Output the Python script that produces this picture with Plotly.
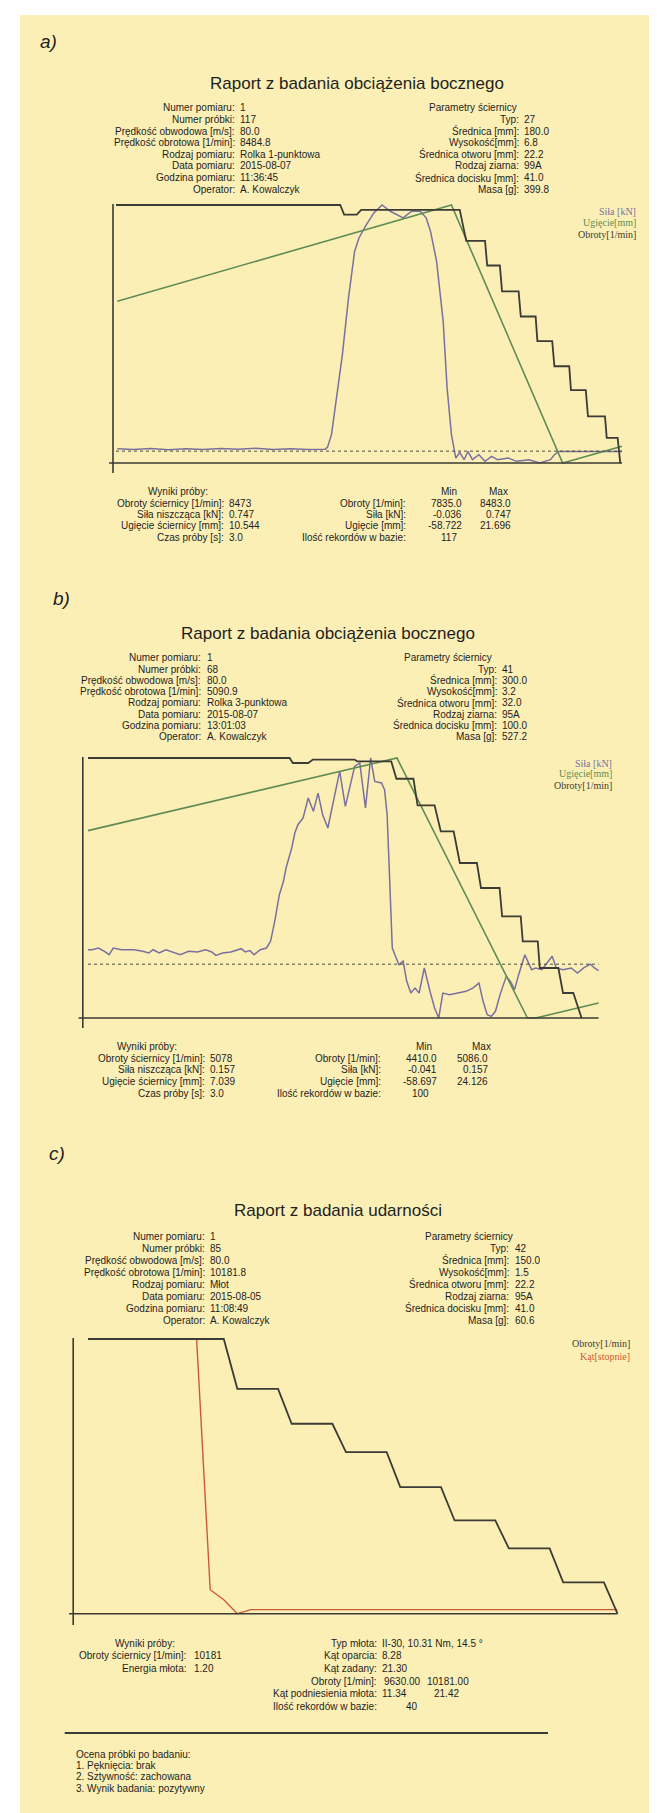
import plotly.graph_objects as go

W, H = 657, 1813

# ================= DATA =================
# ---- Panel a) Raport z badania obciążenia bocznego (Rolka 1-punktowa), 117 rekordów ----
a_sila_x = [0.3, 4, 8, 12, 16, 20, 24, 28, 32, 36, 40, 44, 48.0,
            48.5, 49.4, 50.4, 51.9, 53.3, 54.7, 55.7, 57.2, 59.1, 61.0,
            62.9, 65.8, 67.8, 69.7, 71.1, 72.1, 73.5, 75.0, 75.9, 76.9,
            77.9, 78.8, 79.8, 80.7, 81.7, 83.2, 84.6, 86.1, 87.5, 89.9,
            91.8, 94.7, 97.1, 99.6, 100.5, 101.5, 116.0]
a_sila_y = [0.007, 0.005, 0.008, 0.004, 0.007, 0.005, 0.008, 0.006, 0.009, 0.005, 0.007, 0.005, 0.006,
            0.012, 0.050, 0.141, 0.293, 0.465, 0.606, 0.647, 0.683, 0.723, 0.747,
            0.728, 0.708, 0.728, 0.728, 0.708, 0.667, 0.576, 0.394, 0.192, 0.050,
            -0.021, -0.004, -0.026, -0.001, -0.026, -0.011, -0.031, -0.016, -0.026, -0.021,
            -0.031, -0.026, -0.036, -0.026, -0.011, -0.001, -0.001]
a_ugiecie_x = [0.3, 76.9, 102.4, 116.0]
a_ugiecie_y = [-8.3, 21.696, -58.722, -53.5]
a_obroty_x = [0, 51.4, 52.3, 55.2, 56.2, 78.8, 80.3, 84.6, 85.1, 88.0, 88.5, 92.3, 92.8,
              96.2, 96.6, 100.0, 100.5, 103.9, 104.3, 107.7, 108.2, 112.1, 112.5, 115.0, 115.6]
a_obroty_y = [8483, 8483, 8459, 8459, 8471, 8471, 8393, 8393, 8331, 8331, 8266, 8266, 8203,
              8203, 8141, 8141, 8078, 8078, 8018, 8018, 7952, 7952, 7898, 7898, 7835]
a_sila_range = [-0.036, 0.747]
a_ugiecie_range = [-58.722, 21.696]
a_obroty_range = [7835.0, 8483.0]
a_records = [0, 116]

a_info_labels = ["Numer pomiaru:", "Numer próbki:", "Prędkość obwodowa [m/s]:", "Prędkość obrotowa [1/min]:",
                 "Rodzaj pomiaru:", "Data pomiaru:", "Godzina pomiaru:", "Operator:"]
a_info_values = ["1", "117", "80.0", "8484.8", "Rolka 1-punktowa", "2015-08-07", "11:36:45", "A. Kowalczyk"]
a_param_labels = ["Typ:", "Średnica [mm]:", "Wysokość[mm]:", "Średnica otworu [mm]:", "Rodzaj ziarna:",
                  "Średnica docisku [mm]:", "Masa [g]:"]
a_param_values = ["27", "180.0", "6.8", "22.2", "99A", "41.0", "399.8"]
a_result_labels = ["Obroty ściernicy [1/min]:", "Siła niszcząca [kN]:", "Ugięcie ściernicy [mm]:", "Czas próby [s]:"]
a_result_values = ["8473", "0.747", "10.544", "3.0"]
a_mm_labels = ["Obroty [1/min]:", "Siła [kN]:", "Ugięcie [mm]:", "Ilość rekordów w bazie:"]
a_min_values = ["7835.0", "-0.036", "-58.722"]
a_max_values = ["8483.0", "0.747", "21.696"]
a_count = "117"

# ---- Panel b) Raport z badania obciążenia bocznego (Rolka 3-punktowa), 100 rekordów ----
b_sila_x = [0, 0.8, 2.0, 3.2, 4.1, 4.9, 6.5, 8.9, 10.6, 11.8, 12.6, 13.8, 15.1, 16.3, 17.9, 19.5, 21.2,
            22.8, 24.0, 24.8, 26.1, 27.7, 28.9, 29.7, 30.5, 31.4, 32.2, 33.4, 34.6,
            35.4, 36.2, 37.1, 37.9, 38.4, 39.5, 40.1, 40.7, 41.7, 42.7, 43.7, 44.6, 45.5, 46.5, 48.8,
            49.9, 51.7, 52.7, 53.8, 54.8, 55.6, 56.9, 57.5, 58.0, 58.5, 59.0, 59.5,
            60.3, 61.1, 61.8, 62.6, 63.4, 64.2, 65.2, 66.4, 67.2, 68.0, 68.8, 70.1, 71.7, 73.3, 74.6,
            75.8, 76.6, 77.4, 78.2, 79.0, 79.9, 81.1, 81.9, 82.7, 83.5, 84.7, 86.0, 86.8, 88.0, 89.2,
            90.0, 90.8, 92.1, 93.7, 94.9, 96.1, 97.4, 98.2, 99.0]
b_sila_y = [0.0110, 0.0110, 0.0123, 0.0098, 0.0072, 0.0123, 0.0110, 0.0110, 0.0098, 0.0085, 0.0110, 0.0085,
            0.0110, 0.0093, 0.0072, 0.0098, 0.0093, 0.0110, 0.0093, 0.0067, 0.0085, 0.0093, 0.0110, 0.0118,
            0.0093, 0.0103, 0.0072, 0.0110, 0.0123,
            0.0174, 0.0326, 0.0529, 0.0631, 0.0732, 0.0885, 0.0999, 0.1062, 0.1113, 0.1265, 0.1164, 0.1303,
            0.1138, 0.1037, 0.1468, 0.1202, 0.1506, 0.1532, 0.1189, 0.157, 0.1392, 0.1380, 0.1329, 0.1138,
            0.0631, 0.0123, 0.0072,
            -0.0004, 0.0022, -0.0131, -0.0220, -0.0182, -0.0220, -0.0029, -0.0220, -0.0334, -0.041, -0.0220,
            -0.0232, -0.0220, -0.0207, -0.0182, -0.0144, -0.0283, -0.0385, -0.0398, -0.0359, -0.0232, -0.0093,
            -0.0131, -0.0194, -0.0080, 0.0072, -0.0042, -0.0029, -0.0042, 0.0022, 0.0060, -0.0029, -0.0042,
            -0.0029, -0.0067, -0.0029, 0.0, -0.0029, -0.0050]
b_ugiecie_x = [0, 59.9, 85.2, 86.8, 99.0]
b_ugiecie_y = [1.0, 24.126, -58.697, -58.697, -53.9]
b_obroty_x = [0, 39.1, 39.7, 42.7, 43.6, 51.7, 52.2, 58.8, 59.8, 63.1, 63.9, 67.2, 68.4, 70.9,
              72.1, 75.4, 76.2, 79.8, 80.3, 83.9, 84.3, 87.2, 87.6, 91.2, 92.1, 94.1, 95.7]
b_obroty_y = [5086, 5086, 5073, 5073, 5082, 5082, 5077, 5077, 5032, 5032, 4963, 4963, 4895, 4895,
              4813, 4813, 4748, 4748, 4674, 4674, 4609, 4609, 4540, 4540, 4475, 4475, 4410]
b_sila_range = [-0.041, 0.157]
b_ugiecie_range = [-58.697, 24.126]
b_obroty_range = [4410.0, 5086.0]
b_records = [0, 99]

b_info_values = ["1", "68", "80.0", "5090.9", "Rolka 3-punktowa", "2015-08-07", "13:01:03", "A. Kowalczyk"]
b_param_values = ["41", "300.0", "3.2", "32.0", "95A", "100.0", "527.2"]
b_result_values = ["5078", "0.157", "7.039", "3.0"]
b_min_values = ["4410.0", "-0.041", "-58.697"]
b_max_values = ["5086.0", "0.157", "24.126"]
b_count = "100"

# ---- Panel c) Raport z badania udarności (Młot), 40 rekordów ----
c_record = list(range(40))
c_obroty = [10181, 10181, 10181, 10181, 10181, 10181, 10181, 10181, 10181, 10181, 10181,
            10081, 10081, 10081, 10081, 10011, 10011, 10011, 10011, 9954, 9954, 9954, 9954,
            9884, 9884, 9884, 9884, 9817, 9817, 9817, 9817, 9761, 9761, 9761, 9761,
            9693, 9693, 9693, 9693, 9630]
c_kat = [21.42, 21.42, 21.42, 21.42, 21.42, 21.42, 21.42, 21.42, 21.42, 12.22, 11.85, 11.34,
         11.49, 11.49, 11.49, 11.49, 11.49, 11.49, 11.49, 11.49, 11.49, 11.49, 11.49, 11.49,
         11.49, 11.49, 11.49, 11.49, 11.49, 11.49, 11.49, 11.49, 11.49, 11.49, 11.49, 11.49,
         11.49, 11.49, 11.49, 11.49]
c_obroty_range = [9630.0, 10181.0]
c_kat_range = [11.34, 21.42]
c_records = [0, 39]

c_info_values = ["1", "85", "80.0", "10181.8", "Młot", "2015-08-05", "11:08:49", "A. Kowalczyk"]
c_param_values = ["42", "150.0", "1.5", "22.2", "95A", "41.0", "60.6"]
c_result_labels = ["Obroty ściernicy [1/min]:", "Energia młota:"]
c_result_values = ["10181", "1.20"]
c_hammer_labels = ["Typ młota:", "Kąt oparcia:", "Kąt zadany:", "Obroty [1/min]:",
                   "Kąt podniesienia młota:", "Ilość rekordów w bazie:"]
c_hammer_values = ["II-30, 10.31 Nm, 14.5 °", "8.28", "21.30"]
c_obroty_minmax = ["9630.00", "10181.00"]
c_kat_minmax = ["11.34", "21.42"]
c_count = "40"
c_ocena = ["Ocena próbki po badaniu:", "1. Pęknięcia: brak", "2. Sztywność: zachowana",
           "3. Wynik badania: pozytywny"]

# ================= STYLE =================
BG = "#FCEFB5"
TXT = "#1e1e1e"
AX = "#3a3a36"
C_SILA = "#7a70a0"
C_UG = "#5f8c55"
C_OBR = "#3c3c36"
C_KAT = "#cc5a38"
SANS = "Liberation Sans, Arial, sans-serif"
SERIF = "Liberation Serif, Times New Roman, serif"
FS = 10          # report text size
FT = 17          # title size
PAD = 3


def X(px):
    return px / W


def Y(py):
    return 1 - py / H


def xaxis_cfg(p_left, p_right, rng):
    span = (rng[1] - rng[0]) / (p_right - p_left)
    return dict(domain=[X(p_left - PAD), X(p_right + PAD)],
                range=[rng[0] - PAD * span, rng[1] + PAD * span], visible=False, fixedrange=True)


def yaxis_cfg(p_top, p_bot, rng, anchor, overlaying=None):
    span = (rng[1] - rng[0]) / (p_bot - p_top)
    d = dict(domain=[Y(p_bot + PAD), Y(p_top - PAD)],
             range=[rng[0] - PAD * span, rng[1] + PAD * span], visible=False, fixedrange=True,
             anchor=anchor)
    if overlaying:
        d["overlaying"] = overlaying
    return d


fig = go.Figure()
ann = []
shapes = []


def T(x, y, s, anchor="right", size=FS, color=TXT, family=SANS, style="normal"):
    ann.append(dict(x=X(x), y=Y(y), xref="paper", yref="paper", text=s, showarrow=False,
                    xanchor=anchor, yanchor="middle", borderpad=0,
                    font=dict(size=size, color=color, family=family, style=style)))


def Lpx(x0, y0, x1, y1, w=1.6, color=AX):
    shapes.append(dict(type="line", xref="paper", yref="paper", x0=X(x0), y0=Y(y0), x1=X(x1), y1=Y(y1),
                       line=dict(color=color, width=w)))


# background
shapes.append(dict(type="rect", xref="paper", yref="paper", x0=X(12), x1=1, y0=Y(1810), y1=Y(7),
                   fillcolor=BG, line=dict(width=0), layer="below"))

# ---------- panel a chart ----------
fig.add_trace(go.Scatter(x=a_sila_x, y=a_sila_y, xaxis="x", yaxis="y", mode="lines",
                         line=dict(color=C_SILA, width=1.5), name="Siła [kN]"))
fig.add_trace(go.Scatter(x=a_ugiecie_x, y=a_ugiecie_y, xaxis="x", yaxis="y2", mode="lines",
                         line=dict(color=C_UG, width=1.6), name="Ugięcie[mm]"))
fig.add_trace(go.Scatter(x=a_obroty_x, y=a_obroty_y, xaxis="x", yaxis="y3", mode="lines",
                         line=dict(color=C_OBR, width=1.8), name="Obroty[1/min]"))
# ---------- panel b chart ----------
fig.add_trace(go.Scatter(x=b_sila_x, y=b_sila_y, xaxis="x2", yaxis="y4", mode="lines",
                         line=dict(color=C_SILA, width=1.5), name="Siła [kN]"))
fig.add_trace(go.Scatter(x=b_ugiecie_x, y=b_ugiecie_y, xaxis="x2", yaxis="y5", mode="lines",
                         line=dict(color=C_UG, width=1.6), name="Ugięcie[mm]"))
fig.add_trace(go.Scatter(x=b_obroty_x, y=b_obroty_y, xaxis="x2", yaxis="y6", mode="lines",
                         line=dict(color=C_OBR, width=1.8), name="Obroty[1/min]"))
# ---------- panel c chart ----------
fig.add_trace(go.Scatter(x=c_record, y=c_kat, xaxis="x3", yaxis="y7", mode="lines",
                         line=dict(color=C_KAT, width=1.4), name="Kąt[stopnie]"))
fig.add_trace(go.Scatter(x=c_record, y=c_obroty, xaxis="x3", yaxis="y8", mode="lines",
                         line=dict(color=C_OBR, width=1.8), name="Obroty[1/min]"))

# geometry (pixels)
A = dict(l=108, r=614, t=197, b=455)
B = dict(l=80, r=590.6, t=750, b=1010)
C = dict(l=80, r=609.5, t=1331, b=1605.7)

fig.update_layout(
    xaxis=xaxis_cfg(A["l"], A["r"], a_records) | dict(anchor="y"),
    yaxis=yaxis_cfg(A["t"], A["b"], a_sila_range, "x"),
    yaxis2=yaxis_cfg(A["t"], A["b"], a_ugiecie_range, "x", "y"),
    yaxis3=yaxis_cfg(A["t"], A["b"], a_obroty_range, "x", "y"),
    xaxis2=xaxis_cfg(B["l"], B["r"], b_records) | dict(anchor="y4"),
    yaxis4=yaxis_cfg(B["t"], B["b"], b_sila_range, "x2"),
    yaxis5=yaxis_cfg(B["t"], B["b"], b_ugiecie_range, "x2", "y4"),
    yaxis6=yaxis_cfg(B["t"], B["b"], b_obroty_range, "x2", "y4"),
    xaxis3=xaxis_cfg(C["l"], C["r"], c_records) | dict(anchor="y7"),
    yaxis7=yaxis_cfg(C["t"], C["b"], c_kat_range, "x3"),
    yaxis8=yaxis_cfg(C["t"], C["b"], c_obroty_range, "x3", "y7"),
)

# Siła zero reference (dotted)
shapes.append(dict(type="line", xref="x", yref="y", x0=a_records[0], x1=a_records[1], y0=0, y1=0,
                   line=dict(color="#4a4a44", width=1, dash="dot")))
shapes.append(dict(type="line", xref="x2", yref="y4", x0=b_records[0], x1=b_records[1], y0=0, y1=0,
                   line=dict(color="#4a4a44", width=1, dash="dot")))

# axis frames
Lpx(105, 196, 105, 465)
Lpx(101, 455, 614, 455)
Lpx(74.8, 749, 74.8, 1020)
Lpx(70.6, 1010, 590.6, 1010)
Lpx(65.2, 1330, 65.2, 1617)
Lpx(61, 1605.7, 609.5, 1605.7)
# separator
Lpx(56.7, 1725, 540, 1725, w=2)


# ---------- texts ----------
def info_block(rows_y, lx, vx, labels, values, hx, plx, pvx, plabels, pvalues):
    for y, l, v in zip(rows_y, labels, values):
        T(lx, y, l, "right")
        T(vx, y, v, "left")
    T(hx, rows_y[0], "Parametry ściernicy", "left")
    for y, l, v in zip(rows_y[1:], plabels, pvalues):
        T(plx, y, l, "right")
        T(pvx, y, v, "left")


# panel a
T(31, 33, "a)", "left", size=19, style="italic")
T(349, 76, "Raport z badania obciążenia bocznego", "center", size=FT)
info_block([100, 111.6, 123.2, 134.8, 146.4, 158, 169.6, 181.2], 228, 231, a_info_labels, a_info_values,
           420, 512, 515, a_param_labels, a_param_values)
for i, (nm, col) in enumerate([("Siła [kN]", C_SILA), ("Ugięcie[mm]", C_UG), ("Obroty[1/min]", C_OBR)]):
    T(629, 203 + i * 11.5, nm, "right", size=10, color=col, family=SERIF)
ry = [483.3, 495, 506.3, 517.7, 529]
T(201, ry[0], "Wyniki próby:", "right")
for y, l, v in zip(ry[1:], a_result_labels, a_result_values):
    T(217, y, l, "right")
    T(220, y, v, "left")
T(441, ry[0], "Min", "center")
T(490, ry[0], "Max", "center")
for y, l in zip(ry[1:], a_mm_labels):
    T(398.5, y, l, "right")
for y, mn, mx in zip(ry[1:4], a_min_values, a_max_values):
    T(455, y, mn, "right")
    T(504, y, mx, "right")
T(441, ry[4], a_count, "center")

# panel b
T(44, 590, "b)", "left", size=19, style="italic")
T(319.5, 625, "Raport z badania obciążenia bocznego", "center", size=FT)
info_block([650, 661.2, 672.4, 683.6, 694.8, 706, 717.2, 728.4], 194, 197.6, a_info_labels, b_info_values,
           395, 490, 493, a_param_labels, b_param_values)
for i, (nm, col) in enumerate([("Siła [kN]", C_SILA), ("Ugięcie[mm]", C_UG), ("Obroty[1/min]", C_OBR)]):
    T(605, 755 + i * 11, nm, "right", size=10, color=col, family=SERIF)
ry = [1038.3, 1050, 1061.7, 1073.3, 1085]
T(170, ry[0], "Wyniki próby:", "right")
for y, l, v in zip(ry[1:], a_result_labels, b_result_values):
    T(197.6, y, l, "right")
    T(201, y, v, "left")
T(416, ry[0], "Min", "center")
T(473, ry[0], "Max", "center")
for y, l in zip(ry[1:], a_mm_labels):
    T(374, y, l, "right")
for y, mn, mx in zip(ry[1:4], b_min_values, b_max_values):
    T(429.6, y, mn, "right")
    T(481, y, mx, "right")
T(412, ry[4], b_count, "center")

# panel c
T(40, 1145, "c)", "left", size=19, style="italic")
T(330, 1202, "Raport z badania udarności", "center", size=FT)
info_block([1228, 1240, 1252, 1264, 1276, 1288, 1300, 1312], 197.6, 201, a_info_labels, c_info_values,
           416, 502, 505.7, a_param_labels, c_param_values)
for i, (nm, col) in enumerate([("Obroty[1/min]", C_OBR), ("Kąt[stopnie]", C_KAT)]):
    T(623, 1335 + i * 13, nm, "right", size=10, color=col, family=SERIF)
ry = [1635, 1647.7, 1660.3, 1673, 1685.7, 1698.3]
T(168, ry[0], "Wyniki próby:", "right")
for y, l, v in zip(ry[1:3], c_result_labels, c_result_values):
    T(178.6, y, l, "right")
    T(185, y, v, "left")
for y, l in zip(ry, c_hammer_labels):
    T(370, y, l, "right")
for y, v in zip(ry[:3], c_hammer_values):
    T(373, y, v, "left")
T(375, ry[3], c_obroty_minmax[0], "left")
T(418, ry[3], c_obroty_minmax[1], "left")
T(373, ry[4], c_kat_minmax[0], "left")
T(424.6, ry[4], c_kat_minmax[1], "left")
T(397, ry[5], c_count, "left")
for i, s in enumerate(c_ocena):
    T(67, 1746.7 + i * 11.1, s, "left", size=10)

fig.update_layout(
    width=W, height=H, margin=dict(l=0, r=0, t=0, b=0),
    paper_bgcolor="white", plot_bgcolor="rgba(0,0,0,0)",
    showlegend=False, annotations=ann, shapes=shapes,
)

fig.write_html("out.html")
